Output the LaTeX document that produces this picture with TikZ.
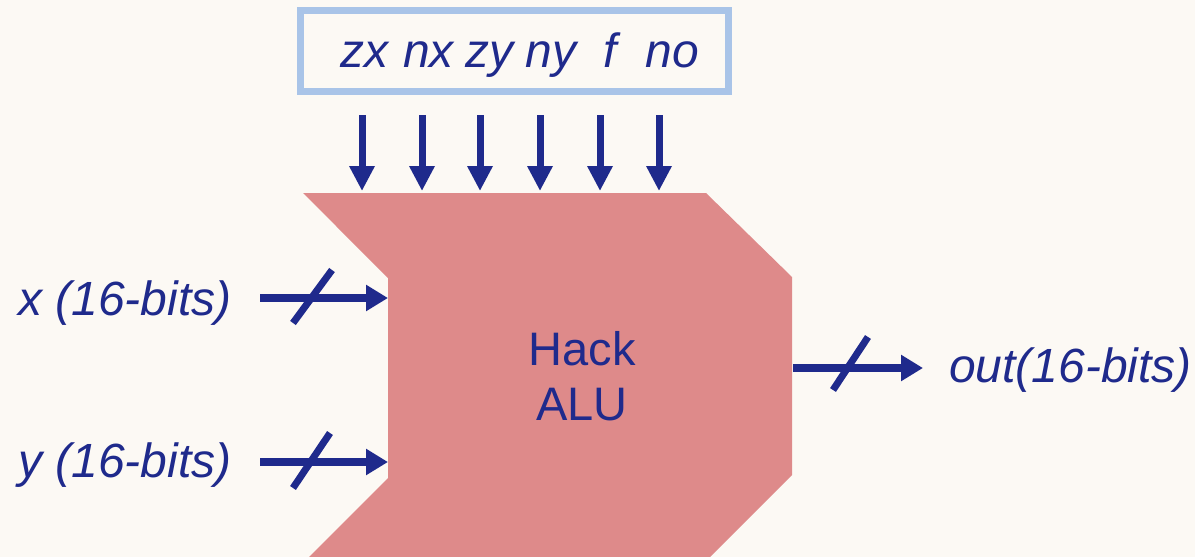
\documentclass[tikz,border=0pt]{standalone}
\usepackage{fontspec}
\setmainfont{Liberation Sans}
\usetikzlibrary{arrows.meta}
\definecolor{bgc}{RGB}{252,249,244}
\definecolor{navy}{RGB}{31,42,140}
\definecolor{alupink}{RGB}{222,138,138}
\definecolor{boxblue}{RGB}{169,196,232}
\tikzset{
  lbl/.style={inner sep=0pt, text=navy, font=\fontsize{48}{56}\selectfont\itshape},
  ctrl/.style={draw=navy, line width=7pt, -{Triangle[length=25pt,width=24pt]}},
  bus/.style={draw=navy, line width=7.5pt, -{Triangle[length=22pt,width=25pt]}},
  slash/.style={draw=navy, line width=7pt}
}
\begin{document}
\begin{tikzpicture}[x=1pt,y=-1pt]
\fill[bgc] (0,0) rectangle (1195,557);
\useasboundingbox (0,0) rectangle (1195,557);
% ALU body
\fill[alupink] (303,193) -- (706,193) -- (792,277) -- (792,475) -- (710,557) -- (309,557) -- (388,478) -- (388,278) -- cycle;
\node[inner sep=0pt, text=navy, align=center, font=\fontsize{47}{55}\selectfont] (alu) at (582,376) {Hack\\ALU};
% control box
\draw[boxblue, line width=7pt] (300.5,10.5) rectangle (728.5,91.5);
\node[lbl, anchor=base west] (ctrl) at (340,67) {zx\hspace{15pt}nx\hspace{12pt}zy\hspace{12pt}ny\hspace{27pt}f\hspace{29pt}no};
\foreach \i/\xx in {1/362,2/422,3/480,4/540,5/600,6/659}{
  \coordinate (c\i s) at (\xx,115);
  \coordinate (c\i e) at (\xx,191);
  \draw[ctrl] (c\i s) -- (c\i e);
}
% x input
\node[lbl, anchor=base west] (xl) at (18,315) {x (16-bits)};
\coordinate (xs) at (260,298);
\coordinate (xe) at (388,298);
\draw[bus] (xs) -- (xe);
\coordinate (xs1) at (293,323);
\coordinate (xs2) at (332,270);
\draw[slash] (xs1) -- (xs2);
% y input
\node[lbl, anchor=base west] (yl) at (18,477) {y (16-bits)};
\coordinate (ys) at (260,462);
\coordinate (ye) at (388,462);
\draw[bus] (ys) -- (ye);
\coordinate (ys1) at (293,488);
\coordinate (ys2) at (330,433);
\draw[slash] (ys1) -- (ys2);
% output
\coordinate (os) at (793,368);
\coordinate (oe) at (923,368);
\draw[bus] (os) -- (oe);
\coordinate (os1) at (833,390);
\coordinate (os2) at (868,337);
\draw[slash] (os1) -- (os2);
\node[lbl, anchor=base west] (ol) at (949,382) {out(16-bits)};
\end{tikzpicture}
\end{document}
